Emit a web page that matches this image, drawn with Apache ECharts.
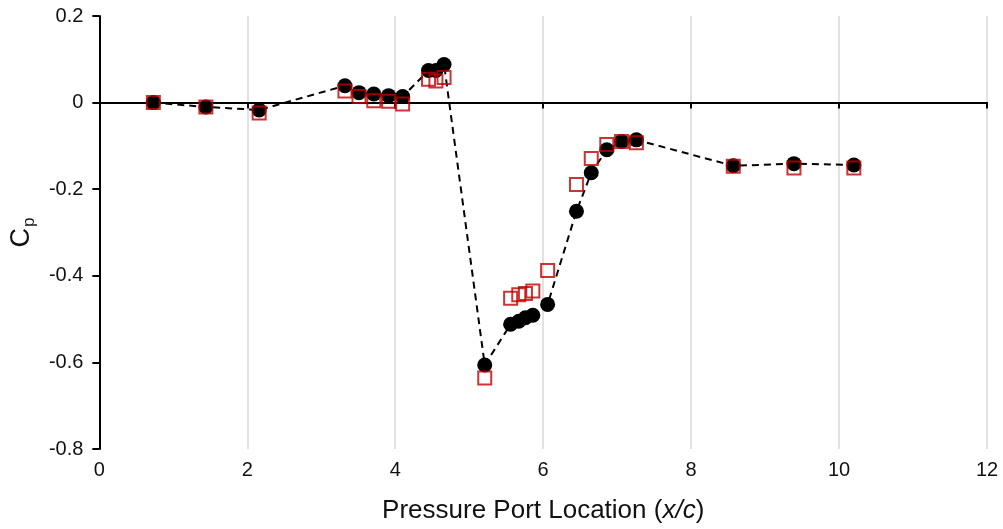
<!DOCTYPE html>
<html>
<head>
<meta charset="utf-8">
<script src="https://cdn.jsdelivr.net/npm/echarts@6/dist/echarts.min.js"></script>
<style>
  html, body { margin: 0; padding: 0; background: #fff; }
  #chart { width: 1003px; height: 529px; }
</style>
</head>
<body>
<div id="chart"></div>
<script>
// Pressure port positions along the surface (x/c)
const portX = [0.73, 1.44, 2.16, 3.32, 3.51, 3.71, 3.91, 4.10, 4.45, 4.55, 4.66,
  5.21, 5.56, 5.67, 5.76, 5.86, 6.06, 6.45, 6.65, 6.86, 7.06, 7.26, 8.57, 9.39, 10.20];

// Pressure coefficient, case A (filled circles, dashed line)
const cpA = [0.000, -0.010, -0.017, 0.039, 0.023, 0.020, 0.016, 0.014, 0.074, 0.074, 0.088,
  -0.606, -0.512, -0.505, -0.497, -0.491, -0.466, -0.251, -0.162, -0.109, -0.090, -0.086,
  -0.146, -0.141, -0.144];

// Pressure coefficient, case B (open squares)
const cpB = [0.000, -0.010, -0.024, 0.027, 0.014, 0.004, 0.003, -0.003, 0.054, 0.050, 0.058,
  -0.636, -0.452, -0.444, -0.441, -0.435, -0.388, -0.189, -0.129, -0.097, -0.090, -0.093,
  -0.147, -0.151, -0.151];

const xTicks = { min: 0, max: 12, step: 2 };
const yTicks = { min: -0.8, max: 0.2, step: 0.2 };

const pairs = (xs, ys) => xs.map((x, i) => [x, ys[i]]);

const FONT = '"Liberation Sans", Arial, sans-serif';
const TXT = '#111';

const chart = echarts.init(document.getElementById('chart'), null, { renderer: 'canvas' });

chart.setOption({
  animation: false,
  backgroundColor: '#fff',
  grid: { left: 98, right: 16, top: 16, bottom: 79, containLabel: false },
  xAxis: [
    {
      // tick labels along the bottom, plus vertical gridlines
      type: 'value',
      min: xTicks.min, max: xTicks.max, interval: xTicks.step,
      axisLine: { show: false, onZero: false },
      axisTick: { show: false },
      splitLine: { show: true, lineStyle: { color: '#d9d9d9', width: 1.5 } },
      axisLabel: { color: TXT, fontSize: 20, fontFamily: FONT, margin: 11 },
      name: '{a|Pressure Port Location (}{i|x/c}{a|)}',
      nameLocation: 'middle',
      nameGap: 49,
      nameTextStyle: {
        rich: {
          a: { fontSize: 26, fontFamily: FONT, color: TXT },
          i: { fontSize: 26, fontFamily: FONT, color: TXT, fontStyle: 'italic' }
        }
      }
    },
    {
      // horizontal axis line drawn through Cp = 0
      type: 'value',
      position: 'bottom',
      min: xTicks.min, max: xTicks.max, interval: xTicks.step,
      axisLine: { show: true, onZero: true, onZeroAxisIndex: 0, lineStyle: { color: '#000', width: 2 } },
      axisTick: { show: true, length: 6, lineStyle: { color: '#000', width: 2 } },
      axisLabel: { show: false },
      splitLine: { show: false }
    }
  ],
  yAxis: {
    type: 'value',
    min: yTicks.min, max: yTicks.max, interval: yTicks.step,
    axisLine: { show: true, onZero: false, lineStyle: { color: '#000', width: 2 } },
    axisTick: { show: true, length: 7, lineStyle: { color: '#000', width: 2 } },
    splitLine: { show: false },
    axisLabel: {
      color: TXT, fontSize: 20, fontFamily: FONT, margin: 16,
      formatter: v => (Math.abs(v) < 1e-9 ? '0' : v.toFixed(1))
    },
    name: '{c|C}{p|p}',
    nameLocation: 'middle',
    nameRotate: 90,
    nameGap: 56,
    nameTextStyle: {
      rich: {
        c: { fontSize: 27, fontFamily: FONT, color: TXT },
        p: { fontSize: 17, fontFamily: FONT, color: TXT, padding: [16, 0, 0, 1] }
      }
    }
  },
  series: [
    {
      name: 'A',
      type: 'line',
      xAxisIndex: 0,
      data: pairs(portX, cpA),
      symbol: 'circle',
      symbolSize: 15,
      itemStyle: { color: '#000' },
      lineStyle: { color: '#000', width: 2, type: [7, 5] },
      z: 2
    },
    {
      name: 'B',
      type: 'scatter',
      xAxisIndex: 0,
      data: pairs(portX, cpB),
      symbol: 'rect',
      symbolSize: 13,
      itemStyle: { color: 'rgba(0,0,0,0)', borderColor: '#c00000', borderWidth: 2 },
      z: 3
    }
  ]
});
</script>
</body>
</html>
